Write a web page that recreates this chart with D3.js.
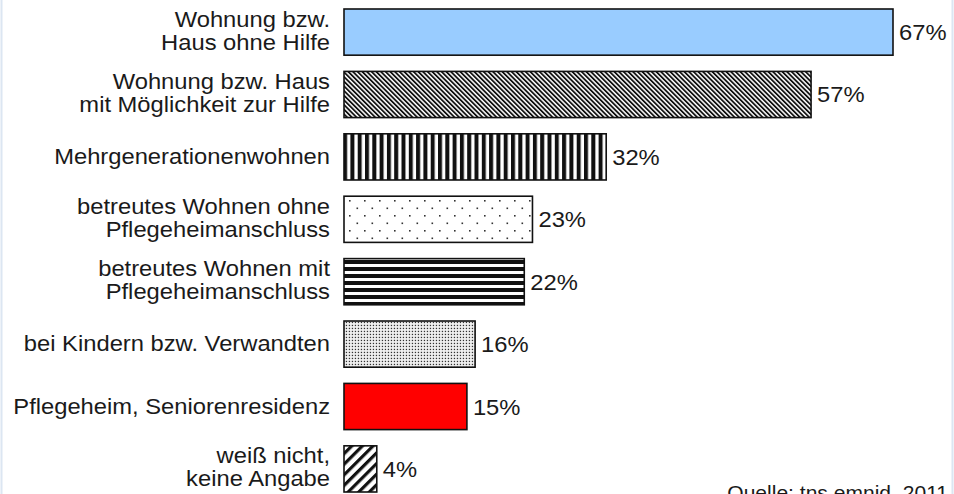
<!DOCTYPE html>
<html>
<head>
<meta charset="utf-8">
<script src="https://cdn.jsdelivr.net/npm/d3@7"></script>
<style>
  html, body { margin: 0; padding: 0; background: #fff; }
  svg { display: block; }
  text { font-family: "Liberation Sans", Arial, Helvetica, sans-serif; fill: #1a1a1a; }
</style>
</head>
<body>
<svg id="chart"></svg>
<script>
// data
var categories = [
  "Wohnung bzw.\nHaus ohne Hilfe",
  "Wohnung bzw. Haus\nmit Möglichkeit zur Hilfe",
  "Mehrgenerationenwohnen",
  "betreutes Wohnen ohne\nPflegeheimanschluss",
  "betreutes Wohnen mit\nPflegeheimanschluss",
  "bei Kindern bzw. Verwandten",
  "Pflegeheim, Seniorenresidenz",
  "weiß nicht,\nkeine Angabe"
];
var values = [67, 57, 32, 23, 22, 16, 15, 4];
var valueLabels = ["67%", "57%", "32%", "23%", "22%", "16%", "15%", "4%"];
var source = "Quelle: tns emnid, 2011";

// fill per bar (pattern ids / colours)
var fills = ["#99ccff", "url(#hatchDense)", "url(#vStripes)", "url(#sparseDots)",
             "url(#hStripes)", "url(#fineDots)", "#ff0000", "url(#hatchWide)"];

var width = 954, height = 494;
var fontSize = 22, stretch = 1.08;

var svg = d3.select("#chart")
  .attr("width", width)
  .attr("height", height);

svg.append("rect").attr("width", width).attr("height", height).attr("fill", "#fff");

// faint frame lines at the left and right edge
svg.append("line").attr("x1", 1.5).attr("x2", 1.5).attr("y1", 0).attr("y2", height)
  .attr("stroke", "#dce6f2").attr("stroke-width", 2);
svg.append("line").attr("x1", 952.5).attr("x2", 952.5).attr("y1", 0).attr("y2", height)
  .attr("stroke", "#dce6f2").attr("stroke-width", 2);

var defs = svg.append("defs");

// diagonal "\" dense hatch
var p = defs.append("pattern").attr("id", "hatchDense")
  .attr("patternUnits", "userSpaceOnUse").attr("width", 3.3).attr("height", 10)
  .attr("patternTransform", "rotate(-45)");
p.append("rect").attr("width", 3.3).attr("height", 10).attr("fill", "#fff");
p.append("rect").attr("width", 1.8).attr("height", 10).attr("fill", "#111");

// "/" wide hatch
p = defs.append("pattern").attr("id", "hatchWide")
  .attr("patternUnits", "userSpaceOnUse").attr("width", 7.5).attr("height", 10)
  .attr("patternTransform", "rotate(45)");
p.append("rect").attr("width", 7.5).attr("height", 10).attr("fill", "#fff");
p.append("rect").attr("width", 3.2).attr("height", 10).attr("fill", "#111");

// vertical stripes
p = defs.append("pattern").attr("id", "vStripes")
  .attr("patternUnits", "userSpaceOnUse").attr("width", 7.3).attr("height", 10);
p.append("rect").attr("width", 7.3).attr("height", 10).attr("fill", "#fff");
p.append("rect").attr("width", 4).attr("height", 10).attr("fill", "#111");

// horizontal stripes
p = defs.append("pattern").attr("id", "hStripes")
  .attr("patternUnits", "userSpaceOnUse").attr("width", 10).attr("height", 7)
  .attr("y", 1);
p.append("rect").attr("width", 10).attr("height", 7).attr("fill", "#fff");
p.append("rect").attr("width", 10).attr("height", 4).attr("fill", "#111");

// sparse staggered dots
p = defs.append("pattern").attr("id", "sparseDots")
  .attr("patternUnits", "userSpaceOnUse").attr("width", 15).attr("height", 15)
  .attr("x", 2).attr("y", 3);
p.append("rect").attr("width", 15).attr("height", 15).attr("fill", "#fff");
p.append("rect").attr("x", 2).attr("y", 2).attr("width", 1.6).attr("height", 1.6).attr("fill", "#333");
p.append("rect").attr("x", 9.5).attr("y", 9.5).attr("width", 1.6).attr("height", 1.6).attr("fill", "#333");

// fine dot grid
p = defs.append("pattern").attr("id", "fineDots")
  .attr("patternUnits", "userSpaceOnUse").attr("width", 3).attr("height", 3);
p.append("rect").attr("width", 3).attr("height", 3).attr("fill", "#f2f2f2");
p.append("rect").attr("x", 0.8).attr("y", 0.8).attr("width", 1.3).attr("height", 1.3).attr("fill", "#333");

// scales
var x = d3.scaleLinear()
  .domain([0, d3.max(values)])
  .range([344, 893]);

var y = d3.scaleBand()
  .domain(categories)
  .range([9, 492])
  .paddingInner(0.26)
  .paddingOuter(0);

var rows = svg.append("g").selectAll("g")
  .data(categories)
  .enter().append("g");

// bars
rows.append("rect")
  .attr("x", x(0))
  .attr("y", function(d) { return y(d); })
  .attr("width", function(d, i) { return x(values[i]) - x(0); })
  .attr("height", y.bandwidth())
  .attr("fill", function(d, i) { return fills[i]; })
  .attr("stroke", "#111")
  .attr("stroke-width", 1.6);

// category labels (right aligned, one or two lines)
rows.append("text")
  .attr("text-anchor", "end")
  .attr("font-size", fontSize)
  .attr("transform", function(d) {
    var cy = y(d) + y.bandwidth() / 2;
    return "translate(330," + cy + ") scale(" + stretch + ",1)";
  })
  .each(function(d) {
    var lines = d.split("\n");
    var t = d3.select(this);
    lines.forEach(function(line, k) {
      var off = lines.length === 1 ? 7 : (k === 0 ? -5.5 : 17.5);
      t.append("tspan").attr("x", 0).attr("y", off).text(line);
    });
  });

// value labels
rows.append("text")
  .attr("font-size", fontSize)
  .attr("transform", function(d, i) {
    var cy = y(d) + y.bandwidth() / 2 + 8;
    return "translate(" + (x(values[i]) + 6) + "," + cy + ") scale(" + stretch + ",1)";
  })
  .text(function(d, i) { return valueLabels[i]; });

// source note, cut at the bottom edge
svg.append("text")
  .attr("text-anchor", "end")
  .attr("font-size", 19.5)
  .attr("transform", "translate(948,500) scale(" + stretch + ",1)")
  .text(source);
</script>
</body>
</html>
